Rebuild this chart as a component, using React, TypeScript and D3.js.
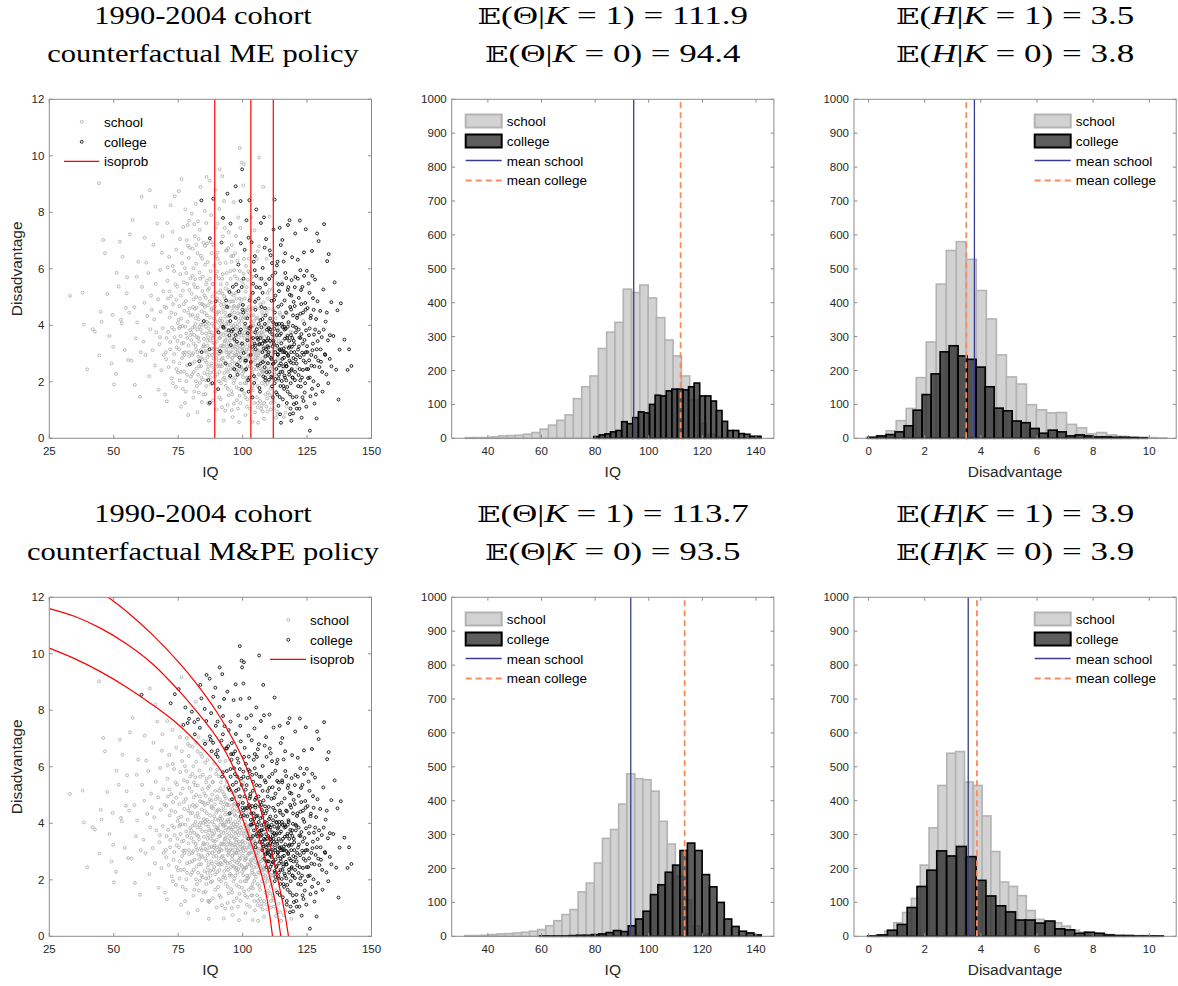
import React from 'react';
import * as d3 from 'd3';

// cohort sample: [IQ, disadvantage, college under ME policy, college under M&PE policy]
const cohortPoints: number[][] = [
  [33.0,5.04,0,0],[37.9,5.16,0,0],[38.4,4.03,0,0],[39.7,2.44,0,0],[41.8,3.86,0,0],[42.7,3.78,0,0],[44.3,9.03,0,0],[44.4,2.93,0,0],[44.9,4.48,0,0],
  [45.3,4.13,0,0],[45.9,7.02,0,0],[46.6,6.55,0,0],[47.5,5.11,0,0],[48.3,3.62,0,0],[49.2,2.65,0,0],[49.6,4.37,0,0],[49.8,3.24,0,0],
  [50.1,1.91,0,0],[50.9,2.28,0,0],[51.1,5.86,0,0],[51.9,5.37,0,0],[52.4,6.96,0,0],[52.8,4.19,0,0],[53.1,4.07,0,0],[53.4,6.43,0,0],[54.3,3.13,0,0],[54.7,4.62,0,0],
  [55.0,5.13,0,0],[55.2,5.70,0,0],[55.6,2.77,0,0],[56.0,4.45,0,0],[56.3,7.22,0,0],[56.9,2.75,0,0],[57.3,7.73,0,0],[58.0,4.64,0,0],[58.2,1.89,0,0],[58.6,3.54,0,0],[58.9,5.72,0,0],[59.5,6.25,0,0],[59.1,4.1,0,0],
  [60.2,1.47,0,0],[60.8,8.55,0,1],[61.0,5.36,0,0],[61.5,3.42,0,0],[61.9,4.80,0,0],[62.3,2.95,0,0],[62.6,6.22,0,0],[63.0,4.33,0,0],[63.4,5.85,0,0],[63.8,2.2,0,0],[64.0,8.78,0,0],[64.2,3.86,0,0],[64.5,5.05,0,0],[64.8,4.55,0,0],[62.0,7.1,0,0],[60.5,3.05,0,0],
  [65.1,3.12,0,0],[65.4,6.85,0,0],[65.7,4.21,0,0],[66.0,2.58,0,0],[66.3,5.47,0,0],[66.5,3.75,0,0],[66.9,7.6,0,0],[67.2,4.92,0,0],[67.4,1.72,0,0],[67.7,3.33,0,0],[68.0,5.96,0,0],
  [68.2,4.48,0,0],[68.5,2.41,0,0],[68.7,6.57,0,0],[69.0,3.9,0,0],[69.2,5.2,0,0],[69.4,2.95,0,0],[69.7,4.66,0,0],[66.2,8.2,0,0],[67.9,3.58,0,0],[68.9,7.15,0,0],[69.9,1.55,0,0],
  [70.2,3.05,0,0],[70.4,4.62,0,0],[70.6,1.31,0,0],[70.9,5.58,0,0],[71.1,3.77,0,0],[71.3,2.52,0,0],[71.5,6.42,0,0],[71.7,4.28,0,0],[71.9,3.41,0,0],[72.1,8.25,0,1],[72.3,5.03,0,0],
  [72.5,2.12,0,0],[72.6,3.92,0,0],[72.8,7.31,0,0],[73.0,4.75,0,0],[73.2,2.71,0,0],[73.4,5.92,0,0],[73.6,3.58,0,0],[73.7,8.57,0,1],[73.9,4.4,0,0],[74.1,1.82,0,0],[74.2,6.68,0,0],
  [74.4,3.22,0,0],[74.6,5.37,0,0],[74.8,4.08,0,0],[74.9,2.33,0,0],[70.8,7.62,0,0],[71.6,5.2,0,0],[72.9,6.1,0,0],[73.5,2.98,0,0],[74.3,4.9,0,0],[70.5,3.55,0,0],
  [75.2,8.75,0,1],[75.3,3.15,0,0],[75.5,4.68,0,0],[75.6,2.05,0,0],[75.8,5.81,0,0],[75.9,3.62,0,0],[76.1,1.12,0,0],[76.2,4.24,0,0],[76.4,6.55,0,0],[76.5,2.84,0,0],[76.7,3.97,0,0],
  [76.8,5.23,0,0],[77.0,7.48,0,1],[77.1,3.38,0,0],[77.3,2.36,0,0],[77.4,4.51,0,0],[77.6,6.02,0,0],[77.7,3.04,0,0],[77.9,1.65,0,0],[78.0,4.86,0,0],[78.1,3.71,0,0],[78.3,7.02,0,0],
  [78.4,2.58,0,0],[78.6,5.47,0,0],[78.7,4.13,0,0],[78.9,0.82,0,0],[79.0,3.29,0,0],[79.1,6.38,0,0],[79.3,2.91,0,0],[79.4,4.59,0,0],[79.6,3.83,0,0],[79.7,5.66,0,0],[79.9,2.18,0,0],
  [75.7,7.05,0,0],[76.3,9.17,0,0],[77.2,5.52,0,0],[77.8,8.1,0,1],[78.2,2.02,0,0],[78.8,6.82,0,0],[79.2,7.7,0,1],[79.8,4.35,0,0],[75.4,3.9,0,0],[76.9,3.02,0,0],[78.5,3.55,0,0],[79.5,2.62,1,0],
  [80.1,3.48,0,0],[80.2,5.12,0,0],[80.4,2.26,0,0],[80.5,4.37,0,0],[80.6,6.71,0,0],[80.8,3.01,0,0],[80.9,1.44,0,0],[81.0,4.92,0,0],[81.2,3.66,0,0],[81.3,7.58,0,1],[81.4,2.71,0,0],
  [81.6,5.63,0,0],[81.7,4.05,0,0],[81.8,3.27,0,0],[82.0,6.18,0,0],[82.1,2.47,0,0],[82.2,4.63,0,0],[82.4,3.85,0,0],[82.5,0.92,0,0],[82.6,5.34,0,0],[82.8,2.89,0,0],[82.9,7.05,0,0],
  [83.0,4.21,0,0],[83.1,3.43,0,0],[83.3,5.87,0,0],[83.4,1.96,0,0],[83.5,4.78,0,0],[83.7,3.12,0,0],[83.8,6.46,0,0],[83.9,2.55,0,0],[84.0,8.42,1,1],[84.1,4.49,0,0],[84.3,3.72,0,0],
  [84.4,5.21,0,0],[84.5,2.08,0,0],[84.7,4.02,0,0],[84.8,6.92,0,0],[84.9,3.31,0,0],[80.3,7.95,0,1],[81.1,5.45,0,0],[81.9,2.02,0,0],[82.7,7.68,0,1],[83.2,2.73,1,0],[83.6,8.9,0,1],
  [84.2,1.28,0,0],[84.6,5.72,0,0],[80.7,3.92,0,0],[81.5,4.58,0,0],[82.3,3.58,0,0],[83.8,4.02,0,0],[84.4,2.81,0,0],[80.9,6.02,0,0],[82.5,6.55,0,0],[83.4,7.38,0,1],[81.8,8.3,0,0],
  [84.1,3.05,1,0],[80.5,2.65,0,0],[82.0,5.0,0,0],[83.0,1.62,0,0],[84.9,4.72,0,0],
  [85.0,3.52,0,0],[85.1,5.06,0,0],[85.2,2.31,0,0],[85.3,4.44,0,0],[85.4,6.81,0,1],[85.5,3.09,0,0],[85.6,1.57,0,0],[85.7,4.97,0,0],[85.8,3.71,0,0],[85.9,7.62,0,1],[86.0,2.68,0,0],
  [86.1,5.58,0,0],[86.2,4.12,0,0],[86.3,3.28,0,0],[86.4,6.24,0,0],[86.5,2.43,0,0],[86.6,4.71,0,0],[86.7,2.06,1,0],[86.8,3.89,0,0],[86.9,0.62,0,0],[87.0,5.31,0,0],[87.1,2.95,0,0],
  [87.2,9.12,0,1],[87.3,7.08,1,1],[87.4,4.28,0,0],[87.5,3.46,0,0],[87.6,5.92,0,0],[87.7,1.92,0,0],[87.8,4.81,0,0],[87.9,3.17,0,0],[88.0,6.55,0,1],[88.1,2.57,0,0],[88.2,4.05,0,0],
  [88.3,3.63,0,0],[88.4,5.47,0,0],[88.5,1.34,0,0],[88.6,8.48,1,1],[88.7,4.52,0,0],[88.8,2.82,0,0],[88.9,3.95,0,0],[89.0,6.12,0,0],[89.1,3.21,0,0],[89.2,4.67,0,0],[89.3,2.19,0,0],
  [89.4,5.15,0,0],[89.5,3.77,0,0],[89.6,7.45,0,1],[89.7,2.62,0,0],[89.8,4.38,0,0],[89.9,1.02,0,0],[85.3,8.05,0,1],[85.8,2.05,0,0],[86.2,6.9,0,0],[86.6,3.58,0,0],[87.0,1.21,0,0],
  [87.3,1.26,1,0],[87.8,7.9,0,1],[88.2,5.02,0,0],[88.6,3.38,0,0],[89.0,2.45,0,0],[89.4,8.8,0,1],[85.5,4.08,0,0],[86.4,2.88,0,0],[87.5,2.32,0,0],[88.0,4.6,0,0],[89.2,3.02,0,0],
  [86.0,9.25,0,1],[89.7,5.75,0,0],
  [90.0,3.42,0,0],[90.1,4.95,0,0],[90.2,2.27,0,0],[90.3,6.58,0,1],[90.4,3.81,0,0],[90.5,1.74,1,0],[90.6,4.49,0,0],[90.7,2.98,0,0],[90.8,5.66,0,0],[90.9,3.55,0,0],[91.0,8.12,0,1],
  [91.1,2.54,0,0],[91.2,4.17,0,0],[91.3,3.08,1,0],[91.4,5.24,0,0],[91.5,1.38,0,0],[91.6,4.72,0,0],[91.7,3.69,0,0],[91.8,6.93,1,1],[91.9,2.81,0,0],[92.0,4.03,0,0],[92.1,9.28,0,1],
  [92.2,3.26,0,0],[92.3,5.81,0,1],[92.4,2.09,0,0],[92.5,4.58,0,0],[92.6,3.91,1,0],[92.7,0.63,0,0],[92.8,5.03,0,0],[92.9,3.35,0,0],[93.0,7.44,0,1],[93.1,2.66,0,0],[93.2,4.31,0,0],
  [93.3,3.74,0,0],[93.4,6.21,0,0],[93.5,1.86,0,0],[93.6,4.88,1,0],[93.7,3.13,0,0],[93.8,2.43,0,0],[93.9,5.47,0,0],[94.0,3.59,0,0],[94.1,8.66,1,1],[94.2,4.12,0,0],[94.3,2.88,0,0],
  [94.4,6.73,0,1],[94.5,3.37,0,0],[94.6,1.52,0,0],[94.7,4.64,0,0],[94.8,3.02,0,0],[94.9,5.18,1,1],[90.3,7.6,0,1],[90.8,2.02,0,0],[91.2,6.2,0,0],[91.6,3.28,0,0],[92.0,1.1,0,0],
  [92.4,7.8,1,1],[92.9,2.31,0,0],[93.3,5.3,0,0],[93.7,4.05,0,0],[94.2,1.18,0,0],[94.6,7.3,0,1],[90.6,4.1,0,0],[91.0,3.18,0,0],[91.4,2.6,0,0],[91.8,4.45,0,0],[92.2,5.12,0,0],
  [92.6,2.75,0,0],[93.0,3.95,0,0],[93.4,3.48,0,0],[93.8,4.69,0,0],[94.2,2.58,0,0],[94.6,3.82,1,0],[90.1,5.9,0,0],[91.1,9.52,0,1],[92.8,8.4,0,1],[93.9,6.65,0,1],[94.9,2.15,0,0],
  [90.9,3.0,0,0],[93.2,0.98,0,0],[94.4,4.32,0,0],
  [95.0,3.46,0,0],[95.1,4.83,0,0],[95.2,2.21,1,0],[95.3,5.92,0,1],[95.4,3.08,0,0],[95.5,4.37,0,0],[95.6,1.67,0,0],[95.7,3.79,1,0],[95.8,6.84,0,1],[95.9,2.73,0,0],[96.0,4.51,0,0],
  [96.1,3.22,0,0],[96.2,5.36,1,1],[96.3,2.49,0,0],[96.4,3.97,0,0],[96.5,8.36,0,1],[96.6,1.23,0,0],[96.7,4.69,0,0],[96.8,3.51,1,0],[96.9,2.94,0,0],[97.0,5.74,0,1],[97.1,3.88,0,0],
  [97.2,2.15,0,0],[97.3,4.26,1,0],[97.4,7.16,0,1],[97.5,3.33,0,0],[97.6,1.81,0,0],[97.7,4.94,0,0],[97.8,2.61,1,0],[97.9,3.69,0,0],[98.0,6.29,0,1],[98.1,3.04,0,0],[98.2,4.43,0,0],
  [98.3,2.38,0,0],[98.4,5.21,1,1],[98.5,3.58,0,0],[98.6,0.57,0,0],[98.7,4.02,0,0],[98.8,2.86,1,0],[98.9,10.27,0,1],[99.0,3.27,0,0],[99.1,4.76,0,0],[99.2,1.94,0,0],[99.3,3.85,1,0],
  [99.4,5.58,0,1],[99.5,2.52,0,0],[99.6,9.76,0,1],[99.7,4.15,0,0],[99.8,9.52,1,1],[99.9,3.12,0,0],[95.3,7.6,1,1],[95.8,1.0,0,0],[96.3,6.45,0,1],[96.8,2.05,0,0],[97.3,8.92,1,1],
  [97.8,4.6,0,0],[98.3,7.82,0,1],[98.8,1.5,0,0],[99.3,6.9,1,1],[99.8,2.28,0,0],[95.6,4.0,0,0],[96.0,2.85,0,0],[96.5,3.7,0,0],[96.9,4.3,0,0],[97.4,2.95,0,0],[97.8,3.42,1,0],
  [98.2,3.83,0,0],[98.6,2.7,0,0],[99.0,4.4,0,0],[99.4,3.0,0,0],[95.1,2.6,0,0],[95.9,5.1,0,0],[96.7,5.95,0,1],[97.5,5.45,1,1],[98.2,1.05,0,0],[99.1,7.45,0,1],[99.6,4.9,0,0],
  [95.4,3.3,1,0],[96.1,0.75,0,0],[97.1,6.55,0,1],[98.0,3.2,0,0],[98.9,5.92,0,1],[99.7,1.72,1,0],[95.7,6.25,0,1],[96.4,4.85,0,0],[97.6,2.42,0,0],[99.2,8.4,1,1],[98.5,4.7,0,0],
  [100.0,3.38,0,0],[100.1,4.72,1,1],[100.2,2.16,0,0],[100.3,5.83,0,1],[100.4,3.02,1,0],[100.5,4.29,0,1],[100.6,1.59,0,0],[100.7,3.73,0,0],[100.8,6.67,1,1],[100.9,2.69,0,0],
  [101.0,4.06,1,0],[101.1,3.31,0,0],[101.2,5.19,0,1],[101.3,2.42,0,0],[101.4,3.94,0,0],[101.5,7.72,1,1],[101.6,1.12,0,0],[101.7,4.54,0,1],[101.8,3.47,1,0],[101.9,2.87,0,0],
  [102.0,5.61,0,1],[102.1,3.81,0,0],[102.2,2.06,1,0],[102.3,4.33,0,0],[102.4,6.36,0,1],[102.5,3.16,0,0],[102.6,8.43,1,1],[102.7,4.88,1,1],[102.8,2.54,0,0],[102.9,3.62,0,0],
  [103.0,5.04,0,1],[103.1,2.95,1,0],[103.2,4.12,0,1],[103.3,1.73,0,0],[103.4,3.53,0,0],[103.5,6.94,1,1],[103.6,2.33,0,0],[103.7,4.61,0,1],[103.8,3.24,1,0],[103.9,0.58,0,0],
  [104.0,3.99,0,0],[104.1,5.47,1,1],[104.2,2.78,0,0],[104.3,4.36,0,1],[104.4,3.41,0,0],[104.5,1.96,1,0],[104.6,7.36,0,1],[104.7,3.07,0,0],[104.8,4.83,1,1],[104.9,2.62,0,0],
  [100.3,8.95,0,1],[100.8,1.95,0,0],[101.3,6.1,0,1],[101.8,1.38,0,0],[102.3,7.1,1,1],[102.8,1.05,0,0],[103.3,7.82,0,1],[103.8,1.45,1,0],[104.3,6.25,1,1],[104.8,0.92,0,0],
  [100.4,3.65,0,0],[100.9,4.25,0,0],[101.4,2.75,1,0],[101.9,3.55,0,0],[102.4,2.92,0,0],[102.9,4.55,0,1],[103.4,2.5,0,0],[103.9,3.15,0,0],[104.4,2.2,1,0],[104.9,3.75,1,0],
  [100.2,5.45,0,0],[100.7,2.42,0,0],[101.2,3.05,0,0],[101.7,2.15,0,0],[102.2,5.9,0,1],[102.7,3.3,0,0],[103.2,2.7,1,0],[103.7,5.72,0,1],[104.2,4.0,0,1],[104.7,5.95,1,1],
  [100.5,9.7,0,1],[101.1,0.82,0,0],[102.0,3.72,1,0],[103.0,3.85,0,0],[104.0,1.7,0,0],[100.6,3.15,0,0],[101.6,4.45,0,0],[102.6,3.9,1,0],
  [105.0,3.28,1,1],[105.1,4.64,0,1],[105.2,2.11,0,0],[105.3,5.75,1,1],[105.4,2.97,0,0],[105.5,3.86,1,1],[105.6,1.45,0,0],[105.7,4.27,0,1],[105.8,2.58,1,0],[105.9,6.62,0,1],
  [106.0,3.49,1,0],[106.1,2.26,0,0],[106.2,4.95,1,1],[106.3,3.11,0,0],[106.4,9.94,0,1],[106.5,1.78,1,0],[106.6,3.72,0,1],[106.7,5.33,1,1],[106.8,2.73,0,0],[106.9,4.18,1,1],
  [107.0,3.04,0,0],[107.1,7.62,1,1],[107.2,2.41,0,0],[107.3,3.93,1,1],[107.4,1.16,0,0],[107.5,4.47,0,1],[107.6,3.35,1,1],[107.7,2.84,0,0],[107.8,6.03,1,1],[107.9,3.66,0,0],
  [108.0,2.19,1,0],[108.1,4.81,0,1],[108.2,3.18,1,1],[108.3,0.69,0,0],[108.4,3.79,0,1],[108.5,2.52,1,0],[108.6,5.52,0,1],[108.7,3.42,1,1],[108.8,1.89,0,0],[108.9,4.35,1,1],
  [109.0,2.93,0,1],[109.1,7.05,1,1],[109.2,3.61,0,1],[109.3,2.34,1,0],[109.4,4.02,0,1],[109.5,1.41,0,0],[109.6,3.26,1,1],[109.7,5.14,0,1],[109.8,2.66,1,1],[109.9,3.89,0,1],
  [105.3,8.1,1,1],[105.8,1.1,0,0],[106.3,6.8,0,1],[106.8,1.32,0,0],[107.3,5.65,1,1],[107.8,0.95,0,0],[108.3,7.82,1,1],[108.8,2.05,1,0],[109.3,6.35,0,1],[109.8,1.62,0,0],
  [105.4,3.62,0,1],[105.9,2.85,0,0],[106.4,3.32,1,0],[106.9,2.48,0,0],[107.4,3.58,0,1],[107.9,2.7,1,0],[108.4,3.1,0,0],[108.9,2.9,1,1],[109.4,3.45,1,1],[109.9,2.28,0,0],
  [105.2,4.9,0,1],[105.7,3.1,0,0],[106.2,2.6,0,0],[106.7,4.6,0,1],[107.2,3.75,0,1],[107.7,4.22,1,1],[108.2,2.4,0,0],[108.7,4.6,1,1],[109.2,1.12,0,0],[109.7,3.02,0,1],
  [106.0,0.55,0,0],[108.0,8.9,0,1],
  [110.0,3.22,1,1],[110.1,4.58,0,1],[110.2,2.07,1,0],[110.3,5.64,1,1],[110.4,2.89,0,1],[110.5,3.77,1,1],[110.6,1.52,0,0],[110.7,4.24,1,1],[110.8,2.46,0,1],[110.9,6.48,1,1],
  [111.0,3.43,0,1],[111.1,2.18,1,0],[111.2,4.87,1,1],[111.3,3.06,0,1],[111.4,1.84,1,0],[111.5,3.68,1,1],[111.6,5.28,0,1],[111.7,2.63,1,1],[111.8,4.11,1,1],[111.9,2.95,0,1],
  [112.0,7.39,1,1],[112.1,3.34,1,1],[112.2,1.27,0,0],[112.3,3.88,1,1],[112.4,2.31,0,1],[112.5,4.45,1,1],[112.6,3.14,0,1],[112.7,5.86,1,1],[112.8,2.72,1,1],[112.9,3.59,0,1],
  [113.0,1.63,1,0],[113.1,4.02,1,1],[113.2,2.49,0,1],[113.3,6.12,1,1],[113.4,3.27,1,1],[113.5,0.84,0,0],[113.6,3.81,1,1],[113.7,2.84,0,1],[113.8,4.66,1,1],[113.9,2.12,1,1],
  [114.0,3.45,0,1],[114.1,5.21,1,1],[114.2,2.58,1,1],[114.3,3.94,0,1],[114.4,1.46,1,1],[114.5,3.12,1,1],[114.6,4.38,0,1],[114.7,2.35,1,1],[114.8,6.84,1,1],[114.9,3.71,1,1],
  [110.4,7.85,0,1],[110.9,1.02,0,0],[111.4,6.2,1,1],[111.9,1.35,0,0],[112.4,8.45,1,1],[112.9,0.72,0,0],[113.4,5.5,0,1],[113.9,1.15,1,0],[114.4,7.45,1,1],[114.9,0.55,1,0],
  [110.2,3.9,1,1],[110.7,3.3,0,1],[111.2,2.8,1,1],[111.7,3.55,0,1],[112.2,4.9,1,1],[112.7,2.1,1,1],[113.2,3.65,1,1],[113.7,2.98,1,1],[114.2,4.05,1,1],[114.7,2.75,0,1],
  [115.0,3.36,1,1],[115.1,4.73,1,1],[115.2,2.03,1,1],[115.3,5.52,0,1],[115.4,2.81,1,1],[115.5,3.94,1,1],[115.6,1.38,1,1],[115.7,4.29,1,1],[115.8,2.47,0,1],[115.9,6.26,1,1],
  [116.0,3.18,1,1],[116.2,2.22,1,1],[116.3,4.88,1,1],[116.4,3.53,1,1],[116.6,0.91,0,0],[116.7,3.87,1,1],[116.8,2.64,1,1],[116.9,5.67,1,1],[117.0,3.02,1,1],[117.2,4.42,0,1],
  [117.3,1.82,1,1],[117.4,3.63,1,1],[117.6,7.55,1,1],[117.7,2.91,1,1],[117.8,4.11,1,1],[118.0,2.36,1,1],[118.1,3.45,1,1],[118.3,5.08,1,1],[118.4,1.55,1,1],[118.5,3.77,0,1],
  [118.7,2.69,1,1],[118.8,4.56,1,1],[118.9,0.62,1,0],[119.1,3.24,1,1],[119.2,6.41,1,1],[119.4,2.15,1,1],[119.5,3.98,1,1],[119.7,2.84,1,1],[119.8,4.83,1,1],[119.9,1.21,1,1],
  [115.4,7.02,1,1],[116.1,1.75,1,1],[116.5,6.55,1,1],[117.1,1.12,0,1],[117.5,5.25,1,1],[118.2,7.72,1,1],[118.6,1.05,1,1],[119.0,5.6,1,1],[119.6,0.88,1,1],[115.7,3.05,1,1],
  [116.2,3.95,1,1],[117.0,2.55,1,1],[117.9,3.2,1,1],[118.9,2.4,1,1],[119.3,3.55,1,1],
  [120.0,3.33,1,1],[120.2,4.68,1,1],[120.3,2.06,1,1],[120.5,5.71,1,1],[120.6,2.79,1,1],[120.8,3.91,1,1],[120.9,1.47,1,1],[121.1,4.26,1,1],[121.2,2.51,0,1],[121.4,6.32,1,1],
  [121.5,3.14,1,1],[121.7,2.24,1,1],[121.8,4.97,1,1],[122.0,3.57,1,1],[122.2,7.71,1,1],[122.3,2.87,1,1],[122.5,4.41,1,1],[122.6,1.83,1,1],[122.8,3.69,1,1],[122.9,0.73,1,1],
  [123.1,3.03,1,1],[123.2,5.36,1,1],[123.4,2.42,1,1],[123.5,4.15,0,1],[123.7,2.96,1,1],[123.8,6.58,1,1],[124.0,3.48,1,1],[124.1,1.62,1,1],[124.3,4.79,1,1],[124.4,2.68,1,1],
  [124.6,3.82,1,1],[124.7,1.12,1,1],[124.9,5.93,1,1],[120.4,7.25,1,1],[121.0,1.05,1,1],[122.4,5.95,1,1],[123.6,1.32,1,1],[124.5,7.4,1,1],
  [125.0,3.26,1,1],[125.2,4.61,1,1],[125.4,2.13,1,1],[125.6,5.48,1,1],[125.8,2.76,1,1],[126.0,3.89,1,1],[126.1,0.27,1,1],[126.3,1.49,1,1],[126.5,4.34,1,1],[126.7,2.57,1,1],
  [126.9,6.63,1,1],[127.1,3.12,1,1],[127.3,4.96,1,1],[127.5,2.02,1,1],[127.7,3.67,1,1],[127.9,1.23,1,1],[128.1,5.62,1,1],[128.3,2.88,1,1],[128.5,4.22,1,1],[128.7,0.7,1,1],
  [128.9,7.25,1,1],[129.1,3.44,1,1],[129.3,1.88,1,1],[129.5,6.98,1,1],[129.8,2.52,1,1],
  [130.1,4.51,1,1],[130.4,2.71,1,1],[130.7,3.58,1,1],[131.0,1.65,1,1],[131.3,5.27,1,1],[131.6,7.58,1,1],[131.9,2.98,1,1],[132.2,4.13,1,1],[132.5,2.26,1,1],[132.8,6.27,1,1],
  [133.1,3.47,1,1],[133.4,6.52,1,1],[133.8,2.81,1,1],[134.4,4.82,1,1],
  [135.2,3.62,1,1],[135.7,5.52,1,1],[136.3,2.43,1,1],[136.8,4.53,1,1],[137.2,1.37,1,1],[137.6,3.14,1,1],[138.1,4.78,1,1],
  [139.5,3.49,1,1],[140.7,2.42,1,1],[141.3,3.15,1,1],[142.2,2.56,1,1],
];

// further points from the dense core of the cloud (same columns)
const cohortPointsCore: number[][] = [
  [70.35,2.8,0,0],[71.05,4.95,0,0],[71.85,3.15,0,0],[72.35,4.45,0,0],[72.95,1.95,0,0],[73.45,3.85,0,0],[73.95,5.45,0,0],[74.35,2.45,0,0],[74.75,3.45,0,0],[70.95,6.05,0,0],
  [75.15,4.2,0,0],[75.55,2.65,0,0],[75.95,5.05,0,0],[76.35,3.35,0,0],[76.75,1.75,0,0],[77.15,4.75,0,0],[77.45,2.95,0,0],[77.85,3.95,0,0],[78.15,5.85,0,0],[78.45,2.25,0,0],
  [78.85,4.45,0,0],[79.15,3.05,0,0],[79.45,6.75,0,0],[79.75,3.65,0,0],[75.75,3.95,0,0],[76.55,6.2,0,0],[77.65,1.25,0,0],[78.65,7.55,0,1],[79.35,5.25,0,0],[76.05,2.35,0,0],
  [80.15,3.75,0,0],[80.45,2.95,0,0],[80.75,4.65,0,0],[81.05,2.35,0,0],[81.35,3.95,0,0],[81.65,5.35,0,0],[81.95,3.15,0,0],[82.25,1.85,0,0],[82.55,4.35,0,0],[82.85,3.55,0,0],
  [83.15,2.55,0,0],[83.45,4.95,0,0],[83.75,3.85,0,0],[84.05,2.15,0,0],[84.35,6.35,0,0],[84.65,3.25,0,0],[84.95,4.15,1,0],[80.55,5.75,0,0],[81.25,1.65,0,0],[82.05,6.85,0,0],
  [82.75,2.25,0,0],[83.55,5.65,0,0],[84.25,4.75,0,0],[80.95,3.35,0,0],[81.75,4.25,0,0],[82.45,3.05,0,0],[83.25,3.95,0,0],[83.95,2.85,0,0],[84.75,1.55,0,0],[81.45,7.15,0,1],
  [85.15,3.25,0,0],[85.35,4.65,0,0],[85.55,2.75,0,0],[85.75,3.95,0,0],[85.95,1.85,0,0],[86.15,4.35,0,0],[86.35,3.45,0,0],[86.55,5.25,0,0],[86.75,2.55,0,0],[86.95,4.05,0,0],
  [87.15,3.15,1,0],[87.35,5.65,0,0],[87.55,2.15,0,0],[87.75,3.75,0,0],[87.95,4.55,0,0],[88.15,2.95,0,0],[88.35,3.55,0,0],[88.55,6.85,0,1],[88.75,2.35,0,0],[88.95,4.25,0,0],
  [89.15,3.35,0,0],[89.35,1.65,0,0],[89.55,4.85,1,0],[89.75,2.85,0,0],[89.95,3.85,0,0],[85.45,6.15,0,0],[86.05,3.05,0,0],[86.65,1.25,0,0],[87.25,4.85,0,0],[87.85,2.65,0,0],
  [88.45,5.45,0,0],[89.05,3.65,0,0],[89.65,6.45,0,1],[85.85,5.45,0,0],[86.45,2.25,0,0],[87.05,3.75,0,0],[87.65,6.95,0,1],[88.25,1.95,1,0],[88.85,3.15,0,0],[89.45,4.15,0,0],
  [90.05,3.15,0,0],[90.25,4.45,0,0],[90.45,2.55,0,0],[90.65,3.75,1,0],[90.85,5.15,0,0],[91.05,2.35,0,0],[91.25,3.55,0,0],[91.45,4.25,0,0],[91.65,1.95,0,0],[91.85,3.05,0,0],
  [92.05,5.65,0,1],[92.25,2.85,0,0],[92.45,3.95,1,0],[92.65,4.75,0,0],[92.85,2.15,0,0],[93.05,3.45,0,0],[93.25,4.45,0,0],[93.45,2.65,1,0],[93.65,3.85,0,0],[93.85,5.85,0,1],
  [94.05,3.25,0,0],[94.25,1.75,0,0],[94.45,4.05,0,0],[94.65,2.95,0,0],[94.85,3.65,1,0],[90.35,6.35,0,1],[90.95,1.45,0,0],[91.55,5.45,0,0],[92.15,4.15,0,0],[92.75,3.25,0,0],
  [93.35,2.05,0,0],[93.95,4.65,1,0],[94.55,5.25,0,1],[90.75,2.75,0,0],[91.35,3.95,0,0],[91.95,2.55,0,0],[92.55,3.65,0,0],[93.15,4.95,0,0],[93.75,3.05,0,0],[94.35,2.35,0,0],
  [94.95,4.35,1,1],[90.15,3.85,0,0],[91.15,4.85,0,0],[92.35,7.15,0,1],[93.55,6.65,0,1],
  [95.05,3.25,0,0],[95.25,4.15,1,0],[95.45,2.45,0,0],[95.65,3.55,0,0],[95.85,4.85,0,1],[96.05,2.85,0,0],[96.25,3.85,1,0],[96.45,1.95,0,0],[96.65,3.25,0,0],[96.85,4.45,0,0],
  [97.05,2.65,0,0],[97.25,3.65,1,0],[97.45,5.15,0,1],[97.65,2.95,0,0],[97.85,3.95,0,0],[98.05,2.25,1,0],[98.25,4.65,0,1],[98.45,3.35,0,0],[98.65,1.75,0,0],[98.85,3.75,1,0],
  [99.05,2.75,0,0],[99.25,4.25,0,1],[99.45,3.15,0,0],[99.65,5.35,1,1],[99.85,2.45,0,0],[95.35,5.65,0,1],[95.95,1.55,0,0],[96.55,5.05,0,0],[97.15,4.05,0,0],[97.75,1.35,0,0],
  [98.35,6.15,1,1],[98.95,4.95,0,1],[99.55,3.65,0,0],[95.15,3.85,0,0],[95.75,2.15,0,0],[96.35,4.65,0,0],[96.95,3.45,0,0],[97.55,2.35,0,0],[98.15,3.05,0,0],[98.75,2.55,1,0],
  [99.35,3.85,0,0],[99.95,4.55,1,1],[95.55,6.45,0,1],[96.15,3.05,0,0],[96.75,2.45,1,0],[97.35,3.15,0,0],[97.95,5.65,0,1],[98.55,4.15,0,0],[99.15,1.25,0,0],[99.75,3.35,1,0],
  [100.05,3.25,0,0],[100.25,4.45,1,1],[100.45,2.35,0,0],[100.65,3.55,0,0],[100.85,4.95,0,1],[101.05,2.75,1,0],[101.25,3.85,0,0],[101.45,1.95,0,0],[101.65,3.15,0,0],[101.85,4.25,1,1],
  [102.05,2.55,0,0],[102.25,3.45,0,1],[102.45,4.65,0,1],[102.65,2.15,1,0],[102.85,3.25,0,0],[103.05,3.95,1,1],[103.25,2.65,0,0],[103.45,4.35,0,1],[103.65,3.05,0,0],[103.85,1.85,0,0],
  [104.05,3.55,1,1],[104.25,2.45,0,0],[104.45,4.15,0,1],[104.65,3.35,1,0],[104.85,2.75,0,0],[100.35,5.65,1,1],[100.95,1.45,0,0],[101.55,5.35,0,1],[102.15,3.75,0,0],[102.75,5.85,0,1],
  [103.35,1.45,0,0],[103.95,5.15,1,1],[104.55,1.25,0,0],[100.15,2.85,0,0],[100.75,3.95,0,0],[101.35,2.45,1,0],[101.95,3.65,0,0],[102.55,2.95,0,0],[103.15,3.45,0,1],[103.75,2.25,0,0],
  [104.35,3.75,0,1],[104.95,4.55,1,1],[100.55,6.35,0,1],[101.15,4.55,0,1],[101.75,2.05,0,0],[102.35,1.65,1,0],[102.95,4.95,0,1],[103.55,3.95,0,1],[104.15,2.95,0,0],[104.75,6.45,1,1],
  [105.05,3.15,1,1],[105.25,4.25,0,1],[105.45,2.45,0,0],[105.65,3.55,1,1],[105.85,1.85,0,0],[106.05,2.95,0,0],[106.25,4.05,1,1],[106.45,2.25,0,0],[106.65,3.35,1,1],[106.85,4.75,0,1],
  [107.05,2.65,1,0],[107.25,3.75,0,1],[107.45,1.95,0,0],[107.65,3.05,1,1],[107.85,4.35,0,1],[108.05,2.35,0,0],[108.25,3.45,1,1],[108.45,2.75,0,1],[108.65,4.05,1,1],[108.85,1.55,0,0],
  [109.05,3.15,1,1],[109.25,2.45,0,1],[109.45,3.85,1,1],[109.65,1.95,0,0],[109.85,2.95,1,1],[105.35,5.35,1,1],[105.95,1.25,0,0],[106.55,5.65,0,1],[107.15,1.05,0,0],[107.75,5.15,1,1],
  [108.35,1.25,0,0],[108.95,5.45,1,1],[109.55,0.95,0,0],[105.15,2.85,0,0],[105.75,3.95,0,1],[106.35,2.55,0,0],[106.95,3.55,1,1],[107.55,2.35,0,0],[108.15,3.95,0,1],[108.75,2.15,1,0],
  [109.35,4.45,0,1],[109.95,3.55,1,1],[105.55,6.35,0,1],[106.15,3.65,0,1],[106.75,1.65,1,0],[107.35,4.65,1,1],[107.95,3.25,0,1],[108.55,6.75,1,1],[109.15,2.65,0,1],[109.75,4.95,0,1],
  [110.05,3.05,1,1],[110.25,4.15,0,1],[110.45,2.35,1,1],[110.65,3.45,1,1],[110.85,1.75,0,0],[111.05,2.85,1,1],[111.25,3.95,0,1],[111.45,2.15,1,0],[111.65,3.25,1,1],[111.85,4.55,0,1],
  [112.05,2.65,1,1],[112.25,3.65,0,1],[112.45,1.95,1,1],[112.65,3.05,1,1],[112.85,4.25,0,1],[113.05,2.45,1,1],[113.25,3.35,0,1],[113.45,1.55,1,1],[113.65,2.95,1,1],[113.85,3.85,0,1],
  [114.05,2.25,1,1],[114.25,3.15,1,1],[114.45,4.45,0,1],[114.65,1.85,1,1],[114.85,2.65,1,1],[110.35,5.25,0,1],[110.95,1.25,0,0],[111.55,5.75,1,1],[112.15,1.05,0,0],[112.75,5.05,1,1],
  [113.35,0.95,0,0],[113.95,5.45,1,1],[114.55,0.85,1,0],[110.15,2.65,0,1],[110.75,3.85,1,1],[111.35,2.55,0,1],[111.95,3.45,1,1],[112.55,2.25,0,1],[113.15,4.05,1,1],[113.75,2.05,0,1],
  [114.35,3.65,1,1],[114.95,3.05,0,1],[110.55,6.65,1,1],[111.75,1.45,1,0],[113.55,6.25,1,1],
  [115.05,3.15,1,1],[115.25,4.05,1,1],[115.45,2.35,1,1],[115.65,3.45,0,1],[115.85,1.85,1,1],[116.05,2.85,1,1],[116.25,3.85,1,1],[116.45,2.15,1,1],[116.65,3.25,0,1],[116.85,4.45,1,1],
  [117.05,2.55,1,1],[117.25,3.55,1,1],[117.45,1.65,1,1],[117.65,2.95,1,1],[117.85,4.05,0,1],[118.05,2.25,1,1],[118.25,3.25,1,1],[118.45,4.65,1,1],[118.65,1.95,1,1],[118.85,3.05,1,1],
  [119.05,2.45,1,1],[119.25,3.75,0,1],[119.45,1.45,1,1],[119.65,2.65,1,1],[119.85,3.45,1,1],[115.35,5.45,1,1],[115.95,0.75,0,0],[116.55,5.85,1,1],[117.15,1.25,1,1],[117.75,5.35,1,1],
  [118.35,0.85,1,1],[118.95,5.05,1,1],[119.55,4.35,1,1],[115.75,2.55,1,1],[116.35,3.05,1,1],[116.95,2.05,1,1],[117.55,3.95,1,1],[118.15,2.75,1,1],[118.75,3.65,1,1],[119.35,2.15,1,1],
  [120.05,3.05,1,1],[120.35,2.35,1,1],[120.65,3.75,1,1],[120.95,2.65,1,1],[121.25,4.35,1,1],[121.55,1.85,1,1],[121.85,3.25,1,1],[122.15,2.45,1,1],[122.45,3.55,1,1],[122.75,4.75,1,1],
  [123.05,2.15,1,1],[123.35,3.35,1,1],[123.65,2.75,1,1],[123.95,4.05,1,1],[124.25,1.95,1,1],[124.55,3.05,1,1],[124.85,2.45,1,1],[120.25,5.35,1,1],[120.85,1.25,1,1],[121.45,5.65,1,1],
  [122.05,1.05,1,1],[122.65,5.25,1,1],[123.25,1.45,1,1],[123.85,5.75,1,1],[124.45,4.55,1,1],[120.55,3.95,0,1],[121.15,2.95,1,1],[121.75,3.85,1,1],[122.35,2.05,1,1],[123.45,4.45,1,1],
  [125.15,3.05,1,1],[125.45,2.45,1,1],[125.75,3.65,1,1],[126.05,2.15,1,1],[126.35,4.25,1,1],[126.65,2.95,1,1],[126.95,1.75,1,1],[127.25,3.35,1,1],[127.55,4.55,1,1],[127.85,2.55,1,1],
  [128.15,3.85,1,1],[128.45,1.55,1,1],[128.75,3.15,1,1],[129.05,4.85,1,1],[129.35,2.75,1,1],[129.65,3.75,1,1],[125.95,5.15,1,1],[127.05,5.75,1,1],
  [130.25,3.15,1,1],[130.85,2.35,1,1],[131.45,3.85,1,1],[132.05,2.95,1,1],[132.65,4.45,1,1],[133.25,1.95,1,1],[133.85,3.65,1,1],[134.45,2.55,1,1],
];

// isoprobability lines
const isoprobME = [89.2, 103.2, 111.9];
const isoprobMPE: number[][][] = [
  [[25,10.2],[35,9.82],[45,9.36],[55,8.82],[65,8.2],[75,7.5],[85,6.6],[91,5.95],[96,5.1],[100.6,4.0],[104.5,3.0],[108,1.95],[110,1.05],[111.6,0]],
  [[25,11.6],[35,11.32],[45,10.9],[55,10.35],[65,9.65],[75,8.72],[82,7.98],[89.9,7.05],[95,6.25],[100.2,5.2],[104,4.2],[107,3.3],[109.7,2.4],[111.9,1.55],[113.5,0.8],[114.8,0]],
  [[42,12.4],[47.9,12],[55,11.5],[65,10.68],[75,9.72],[82,8.95],[89.9,7.95],[96.4,6.95],[100,6.3],[102.8,5.66],[106,4.82],[109.3,3.75],[112,2.72],[114.5,1.65],[116.3,0.85],[117.8,0]],
];

// histogram bins: first edge, bin width, counts
const iqSchoolME = { start: 31.6, width: 3.1, counts: [2,2,2,4,7,8,9,12,17,27,39,53,69,117,152,184,265,313,342,440,430,452,414,356,290,243,184,113,44,12,4] };
const iqCollegeME = { start: 79.5, width: 2.08, counts: [5,10,13,19,23,49,43,61,78,75,100,127,125,140,145,145,143,152,163,125,125,110,82,50,23,23,14,12,6,6] };
const hSchoolME = { start: -0.088, width: 0.357, counts: [3,8,22,52,88,179,284,455,554,580,528,436,352,246,181,160,99,84,75,76,41,31,13,17,10,6,4,3,2,1] };
const hCollegeME = { start: -0.02, width: 0.321, counts: [3,7,11,19,37,83,129,190,255,273,243,233,210,152,89,81,51,46,29,15,24,19,7,10,7,4,4,3,3,2,1] };
const iqSchoolMPE = { start: 31.4, width: 3.02, counts: [2,2,3,5,7,8,10,12,15,20,31,46,64,79,131,157,216,289,315,390,479,465,462,428,339,272,177,108,30,8,2] };
const iqCollegeMPE = { start: 59.3, width: 2.756, counts: [1,1,1,1,2,3,3,5,7,11,17,14,31,51,74,123,152,189,210,253,275,253,182,146,100,51,29,15,10,4] };
const hSchoolMPE = { start: -0.05, width: 0.315, counts: [1,4,15,40,70,112,210,320,445,540,545,455,445,355,250,160,147,120,76,50,45,40,30,18,12,10,7,5,4,3,2,2,1] };
const hCollegeMPE = { start: -0.03, width: 0.351, counts: [1,4,18,35,85,147,195,252,237,265,235,165,119,90,72,48,48,39,45,22,19,9,12,9,4,2,2,1,1,1] };

// plotted means [school, college]
const meanIQ_ME = [94.4, 111.9];
const meanH_ME = [3.77, 3.48];
const meanIQ_MPE = [93.3, 113.4];
const meanH_MPE = [3.55, 3.86];

const scatterTicksX = [25, 50, 75, 100, 125, 150];
const scatterTicksY = [0, 2, 4, 6, 8, 10, 12];
const histTicksY = d3.range(0, 1001, 100);
const iqTicks = [40, 60, 80, 100, 120, 140];
const hTicks = [0, 2, 4, 6, 8, 10];

const SANS = "'Liberation Sans', Arial, Helvetica, sans-serif";
const SERIF = "'Liberation Serif', 'Times New Roman', serif";
const TXT = '#262626';
const FRAME = '#8c8c8c';
const colX = [49.3, 451.7, 854];
const colW = 322.2;
const rowY = [99.3, 597.3];
const plotH = 339;
const allPoints = cohortPoints.concat(cohortPointsCore);
const MR = 1.45;
const MW = 0.85;

const Frame = ({ xs, ys, xTicks, yTicks }: any) => {
  const [x0, x1] = xs.range();
  const [y1, y0] = ys.range();
  const tl = 3.4;
  return (
    <g>
      <rect x={x0} y={y0} width={x1 - x0} height={y1 - y0} fill="none" stroke={FRAME} strokeWidth={1} />
      {xTicks.map((t: number) => (
        <g key={'x' + t}>
          <line x1={xs(t)} x2={xs(t)} y1={y1} y2={y1 - tl} stroke={FRAME} />
          <line x1={xs(t)} x2={xs(t)} y1={y0} y2={y0 + tl} stroke={FRAME} />
          <text x={xs(t)} y={y1 + 16.7} textAnchor="middle" fontSize={11.5} fontFamily={SANS} fill={TXT}>{t}</text>
        </g>
      ))}
      {yTicks.map((t: number) => (
        <g key={'y' + t}>
          <line x1={x0} x2={x0 + tl} y1={ys(t)} y2={ys(t)} stroke={FRAME} />
          <line x1={x1} x2={x1 - tl} y1={ys(t)} y2={ys(t)} stroke={FRAME} />
          <text x={x0 - 5} y={ys(t) + 4} textAnchor="end" fontSize={11.5} fontFamily={SANS} fill={TXT}>{t}</text>
        </g>
      ))}
    </g>
  );
};

const Title = ({ cx, y, lines, sx = 1.22 }: any) => (
  <g>
    {lines.map((l: any, i: number) => (
      <text key={i} transform={`translate(${cx},${y + i * 38}) scale(${sx},1)`} textAnchor="middle" fontSize={25} fontFamily={SERIF} fill="#000">{l}</text>
    ))}
  </g>
);

const bb = (v: string) => <tspan fontFamily="'DejaVu Serif', 'DejaVu Sans', serif" fontSize={22}>{v}</tspan>;
const it = (v: string) => <tspan fontStyle="italic">{v}</tspan>;

const ScatterPanel = ({ row, flag, legendRight, isoME, curves, clipId }: any) => {
  const xs = d3.scaleLinear().domain([25, 150]).range([colX[0], colX[0] + colW]);
  const ys = d3.scaleLinear().domain([0, 12]).range([rowY[row] + plotH, rowY[row]]);
  const line = d3.line<number[]>().x((d) => xs(d[0])).y((d) => ys(d[1])).curve(d3.curveCatmullRom);
  const school = allPoints.filter((p) => p[flag] === 0);
  const college = allPoints.filter((p) => p[flag] === 1);
  const ly = rowY[row] + 22.5;
  const mx = legendRight ? 288.3 : 81.7;
  const tx = legendRight ? 310 : 104;
  const lx = legendRight ? [270, 306] : [64, 99.3];
  return (
    <g>
      <clipPath id={clipId}><rect x={colX[0]} y={rowY[row]} width={colW} height={plotH} /></clipPath>
      <g>
        {school.map((p, i) => <circle key={'s' + i} cx={xs(p[0])} cy={ys(p[1])} r={MR} fill="none" stroke="#adadad" strokeWidth={MW} />)}
        {college.map((p, i) => <circle key={'c' + i} cx={xs(p[0])} cy={ys(p[1])} r={MR} fill="none" stroke="#000" strokeWidth={MW} />)}
      </g>
      <g clipPath={`url(#${clipId})`}>
        {isoME && isoME.map((v: number) => <line key={v} x1={xs(v)} x2={xs(v)} y1={ys(0)} y2={ys(12)} stroke="#ff0000" strokeWidth={1.2} />)}
        {curves && curves.map((c: number[][], i: number) => <path key={i} d={line(c) as string} fill="none" stroke="#ff0000" strokeWidth={1.2} />)}
      </g>
      <Frame xs={xs} ys={ys} xTicks={scatterTicksX} yTicks={scatterTicksY} />
      <circle cx={mx} cy={ly} r={MR} fill="none" stroke="#adadad" strokeWidth={MW} />
      <circle cx={mx} cy={ly + 20} r={MR} fill="none" stroke="#000" strokeWidth={MW} />
      <line x1={lx[0]} x2={lx[1]} y1={ly + 39.5} y2={ly + 39.5} stroke="#ff0000" strokeWidth={1.2} />
      {['school', 'college', 'isoprob'].map((s, i) => (
        <text key={s} x={tx} y={ly + i * 19.8 + 5} fontSize={13.5} fontFamily={SANS} fill="#000">{s}</text>
      ))}
      <text x={colX[0] + colW / 2} y={rowY[row] + plotH + 38.4} textAnchor="middle" fontSize={15.5} fontFamily={SANS} fill={TXT}>IQ</text>
      <text transform={`translate(21.5,${rowY[row] + plotH / 2}) rotate(-90)`} textAnchor="middle" fontSize={15.5} fontFamily={SANS} fill={TXT}>Disadvantage</text>
    </g>
  );
};

const HistPanel = ({ row, col, domain, ticks, school, college, means, legendX, xLabel }: any) => {
  const xs = d3.scaleLinear().domain(domain).range([colX[col], colX[col] + colW]);
  const ys = d3.scaleLinear().domain([0, 1000]).range([rowY[row] + plotH, rowY[row]]);
  const bars = (b: any) => b.counts.map((c: number, i: number) => {
    const a = xs(b.start + i * b.width);
    const z = xs(b.start + (i + 1) * b.width);
    return { x: a, w: z - a, y: ys(c), h: ys(0) - ys(c), c };
  }).filter((d: any) => d.c > 0);
  const ly = rowY[row] + 21.7;
  return (
    <g>
      {bars(school).map((d: any, i: number) => <rect key={'s' + i} x={d.x} y={d.y} width={d.w} height={d.h} fill="#d2d2d2" stroke="#b3b3b3" strokeWidth={1.6} />)}
      {bars(college).map((d: any, i: number) => <rect key={'c' + i} x={d.x} y={d.y} width={d.w} height={d.h} fill="#262626" fillOpacity={0.75} stroke="#000" strokeWidth={1.6} />)}
      <line x1={xs(means[0])} x2={xs(means[0])} y1={ys(0)} y2={ys(1000)} stroke="#3b3b8e" strokeWidth={1.3} />
      <line x1={xs(means[1])} x2={xs(means[1])} y1={ys(0)} y2={ys(1000)} stroke="#f98b5e" strokeWidth={1.8} strokeDasharray="6 4" />
      <Frame xs={xs} ys={ys} xTicks={ticks} yTicks={histTicksY} />
      <rect x={legendX} y={ly - 6.5} width={36} height={13} fill="#d2d2d2" stroke="#b3b3b3" strokeWidth={2} />
      <rect x={legendX} y={ly + 13.5} width={36} height={13} fill="#5d5d5d" stroke="#000" strokeWidth={2} />
      <line x1={legendX} x2={legendX + 36} y1={ly + 39.5} y2={ly + 39.5} stroke="#3b3b8e" strokeWidth={1.3} />
      <line x1={legendX} x2={legendX + 36} y1={ly + 59.5} y2={ly + 59.5} stroke="#f98b5e" strokeWidth={1.8} strokeDasharray="6 4" />
      {['school', 'college', 'mean school', 'mean college'].map((s, i) => (
        <text key={s} x={legendX + 41} y={ly + i * 19.8 + 5} fontSize={13.5} fontFamily={SANS} fill="#000">{s}</text>
      ))}
      <text x={colX[col] + colW / 2} y={rowY[row] + plotH + 38.4} textAnchor="middle" fontSize={15.5} fontFamily={SANS} fill={TXT}>{xLabel}</text>
    </g>
  );
};

export default function App() {
  const midC = colX[1] + colW / 2;
  const rightC = colX[2] + colW / 2;
  return (
    <svg width={1178} height={986} style={{ position: 'absolute', left: 0, top: 0, background: '#fff' }}>
      <rect width={1178} height={986} fill="#fff" />
      {[0, 1].map((r) => {
        const ty = rowY[r] - 75.3;
        const iqVals = r === 0 ? ['111.9', '94.4'] : ['113.7', '93.5'];
        const hVals = r === 0 ? ['3.5', '3.8'] : ['3.9', '3.9'];
        return (
          <g key={r}>
            <Title cx={203} y={ty} lines={['1990-2004 cohort', r === 0 ? 'counterfactual ME policy' : 'counterfactual M&PE policy']} />
            <Title cx={midC} y={ty} sx={1.4} lines={[
              <>{bb('𝔼')}(Θ|{it('K')} = 1) = {iqVals[0]}</>,
              <>{bb('𝔼')}(Θ|{it('K')} = 0) = {iqVals[1]}</>,
            ]} />
            <Title cx={rightC} y={ty} sx={1.4} lines={[
              <>{bb('𝔼')}({it('H')}|{it('K')} = 1) = {hVals[0]}</>,
              <>{bb('𝔼')}({it('H')}|{it('K')} = 0) = {hVals[1]}</>,
            ]} />
          </g>
        );
      })}
      <ScatterPanel row={0} flag={2} legendRight={false} isoME={isoprobME} clipId="clipA" />
      <ScatterPanel row={1} flag={3} legendRight={true} curves={isoprobMPE} clipId="clipB" />
      <HistPanel row={0} col={1} domain={[26.5, 146.7]} ticks={iqTicks} school={iqSchoolME} college={iqCollegeME} means={meanIQ_ME} legendX={465.7} xLabel="IQ" />
      <HistPanel row={0} col={2} domain={[-0.52, 10.96]} ticks={hTicks} school={hSchoolME} college={hCollegeME} means={meanH_ME} legendX={1034.7} xLabel="Disadvantage" />
      <HistPanel row={1} col={1} domain={[26.5, 146.7]} ticks={iqTicks} school={iqSchoolMPE} college={iqCollegeMPE} means={meanIQ_MPE} legendX={465.7} xLabel="IQ" />
      <HistPanel row={1} col={2} domain={[-0.52, 10.96]} ticks={hTicks} school={hSchoolMPE} college={hCollegeMPE} means={meanH_MPE} legendX={1034.7} xLabel="Disadvantage" />
    </svg>
  );
}
